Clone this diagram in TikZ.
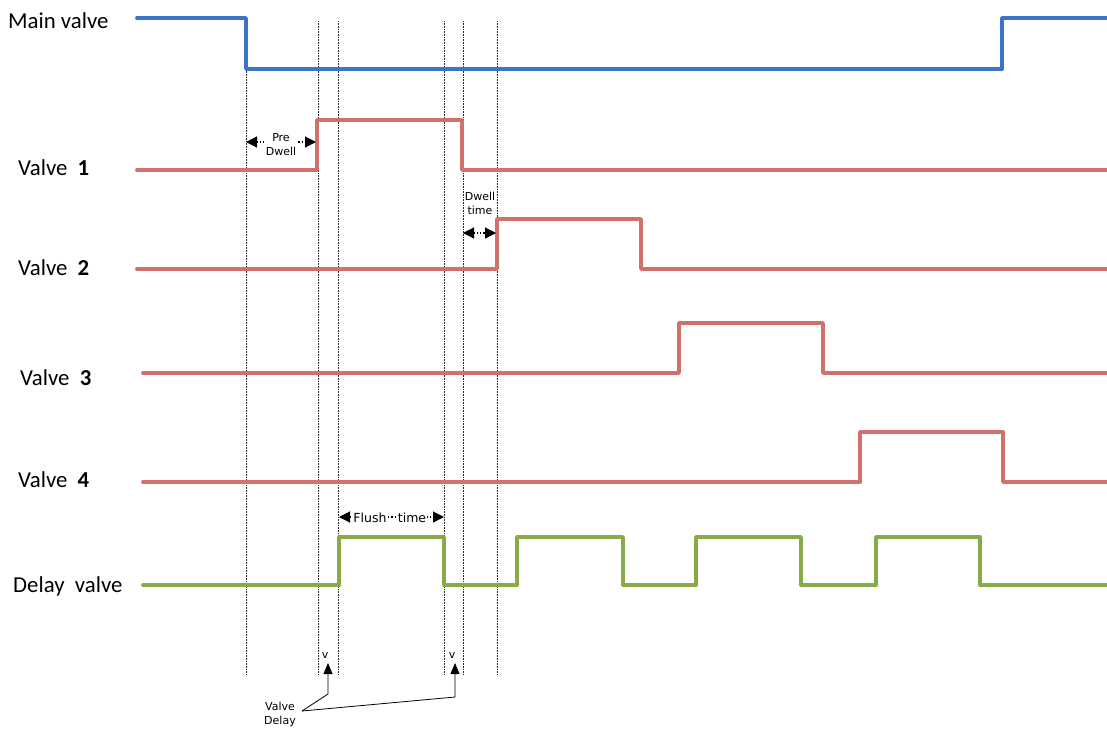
\documentclass[tikz,border=0pt]{standalone}
\usepackage{fontspec}
\setmainfont{Carlito}
\newfontfamily\annfont{DejaVu Sans}
\usetikzlibrary{arrows.meta}
\definecolor{mainblue}{HTML}{3A74C8}
\definecolor{valvered}{HTML}{D0726B}
\definecolor{delaygreen}{HTML}{88AC45}
\begin{document}
\begin{tikzpicture}[x=1pt,y=-1pt,
  wave/.style={line width=3.8pt, line cap=round, line join=round},
  guide/.style={densely dotted, line width=0.6pt, black!85},
  lbl/.style={anchor=west, font=\fontsize{22.8}{25}\selectfont, inner sep=0},
  ann/.style={font=\annfont\fontsize{11}{13}\selectfont, inner sep=0.5pt, align=center},
  dimarrow/.style={dotted, line width=1.2pt, {Triangle[length=11pt,width=11pt]}-{Triangle[length=11pt,width=11pt]}},
  ptr/.style={line width=0.8pt, -{Triangle[length=11pt,width=9pt]}}
]
\useasboundingbox (0,0) rectangle (1107,729);

% guide lines
\coordinate (g0t) at (246,69);  \coordinate (g0b) at (246,675);
\coordinate (g1t) at (318,21);  \coordinate (g1b) at (318,675);
\coordinate (g2t) at (338,21);  \coordinate (g2b) at (338,675);
\coordinate (g3t) at (444,21);  \coordinate (g3b) at (444,675);
\coordinate (g4t) at (463,21);  \coordinate (g4b) at (463,675);
\coordinate (g5t) at (497,21);  \coordinate (g5b) at (497,675);
\foreach \i in {0,...,5} \draw[guide] (g\i t) -- (g\i b);

% labels
\node[lbl] (lmain) at (8,21) {Main valve};
\node[lbl] (lv1) at (18,168) {Valve\ \ \textbf{1}};
\node[lbl] (lv2) at (18,268) {Valve\ \ \textbf{2}};
\node[lbl] (lv3) at (20,378) {Valve\ \ \textbf{3}};
\node[lbl] (lv4) at (18,480) {Valve\ \ \textbf{4}};
\node[lbl] (ldel) at (13,586) {Delay\ \ valve};

% waveforms
\draw[wave, mainblue] (137,18) -- (246,18) -- (246,69) -- (1002,69) -- (1002,18) -- (1107,18);
\draw[wave, valvered] (137,170) -- (317,170) -- (317,120) -- (462,120) -- (462,170) -- (1107,170);
\draw[wave, valvered] (137,269) -- (497,269) -- (497,219) -- (641,219) -- (641,269) -- (1107,269);
\draw[wave, valvered] (143,373) -- (679,373) -- (679,323) -- (823,323) -- (823,373) -- (1107,373);
\draw[wave, valvered] (143,482) -- (860,482) -- (860,432) -- (1003,432) -- (1003,482) -- (1107,482);
\draw[wave, delaygreen] (143,585) -- (339,585) -- (339,537) -- (444,537) -- (444,585)
  -- (517,585) -- (517,537) -- (623,537) -- (623,585)
  -- (696,585) -- (696,537) -- (801,537) -- (801,585)
  -- (876,585) -- (876,537) -- (980,537) -- (980,585) -- (1107,585);

% Pre Dwell
\coordinate (pdl) at (246,142); \coordinate (pdr) at (316,142);
\draw[dimarrow] (pdl) -- (pdr);
\node[ann, fill=white, inner xsep=2pt] (pretext) at (281,145) {Pre\\[1pt]Dwell};

% Dwell time
\coordinate (dtl) at (463,233); \coordinate (dtr) at (496,233);
\draw[dimarrow] (dtl) -- (dtr);
\node[ann] (dwtext) at (480,203) {Dwell\\[1pt]time};

% Flush time
\coordinate (ftl) at (339,517); \coordinate (ftr) at (444,517);
\draw[dimarrow] (ftl) -- (ftr);
\node[ann, fill=white, inner xsep=1pt, font=\annfont\fontsize{12.5}{14}\selectfont] (fltext1) at (370,518) {Flush};
\node[ann, fill=white, inner xsep=1pt, font=\annfont\fontsize{12.5}{14}\selectfont] (fltext2) at (412,518) {time};

% valve delay marks
\node[ann] (v1) at (325,655) {v};
\node[ann] (v2) at (452,655) {v};
\node[ann] (vdtext) at (280,714) {Valve\\[1pt]Delay};
\coordinate (join) at (302,711);
\coordinate (k1) at (328,694); \coordinate (t1) at (328,663);
\coordinate (k2) at (455,697); \coordinate (t2) at (455,663);
\draw[ptr] (join) -- (k1) -- (t1);
\draw[ptr] (join) -- (k2) -- (t2);
\end{tikzpicture}
\end{document}
